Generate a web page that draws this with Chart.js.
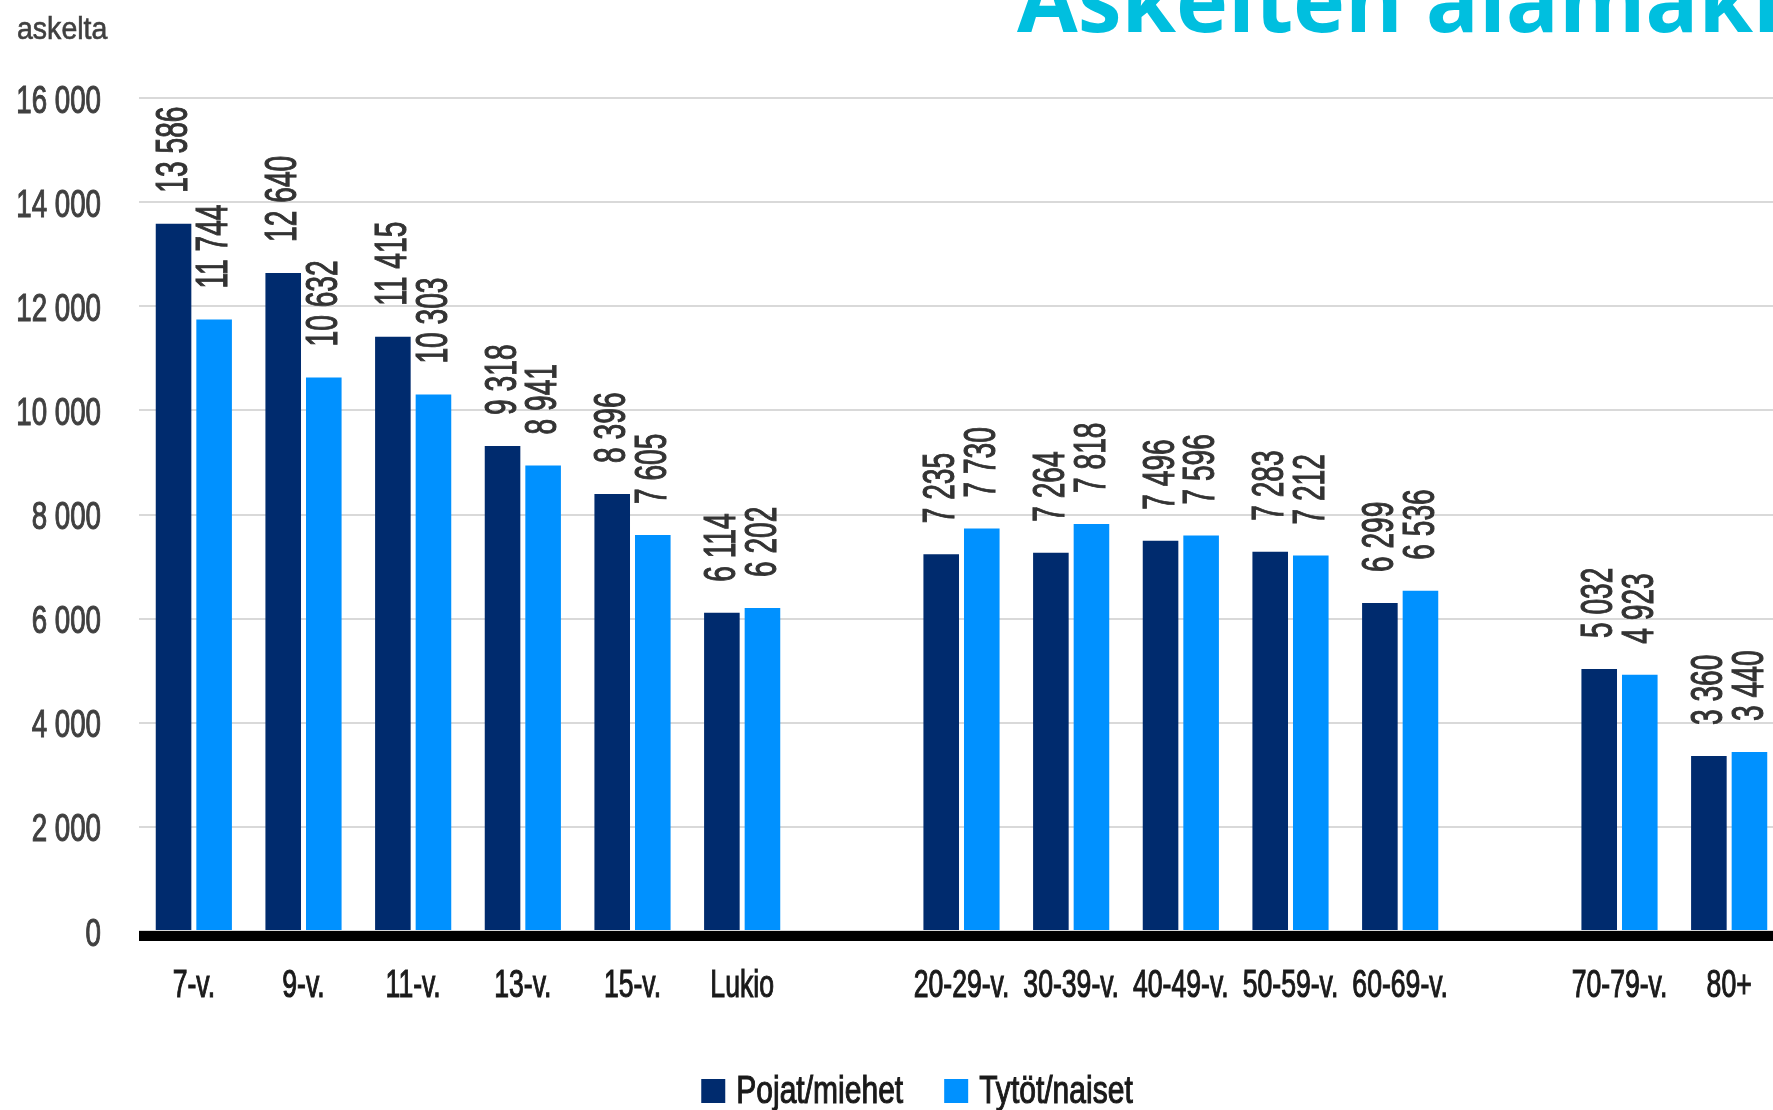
<!DOCTYPE html>
<html>
<head>
<meta charset="utf-8">
<script src="https://cdn.jsdelivr.net/npm/chart.js@4"></script>
<style>
  html, body { margin: 0; padding: 0; background: #fff; overflow: hidden; }
  #wrap { position: relative; width: 1784px; height: 1110px; }
  #title {
    position: absolute; left: 1017px; top: -46px; white-space: nowrap;
    font: 700 88px/88px "Open Sans", sans-serif; color: #00bfdf;
  }
  #unit {
    position: absolute; left: 17px; top: 13px; white-space: nowrap;
    font: 31px/31px "Liberation Sans", sans-serif; color: #404040;
    -webkit-text-stroke: 0.6px #404040;
    transform: scaleX(0.92); transform-origin: left top;
  }
</style>
</head>
<body>
<div id="wrap">
  <canvas id="stepsChart"></canvas>
  <div id="title">Askelten alamäki</div>
  <div id="unit">askelta</div>
</div>
<script>
// ── data ────────────────────────────────────────────────────────────────
const ageGroups = ['7-v.', '9-v.', '11-v.', '13-v.', '15-v.', 'Lukio', '',
  '20-29-v.', '30-39-v.', '40-49-v.', '50-59-v.', '60-69-v.', '',
  '70-79-v.', '80+'];
const boysMen = [13586, 12640, 11415, 9318, 8396, 6114, null,
  7235, 7264, 7496, 7283, 6299, null, 5032, 3360];
const girlsWomen = [11744, 10632, 10303, 8941, 7605, 6202, null,
  7730, 7818, 7596, 7212, 6536, null, 4923, 3440];
const yTicks = [0, 2000, 4000, 6000, 8000, 10000, 12000, 14000, 16000];

const FONT = "'Liberation Sans', Arial, sans-serif";

const fmt = v => String(v).replace(/\B(?=(\d{3})+(?!\d))/g, ' ');

// the reference uses a condensed face, so text is squeezed horizontally
// and given a thin stroke to get back some weight
function narrowText(ctx, text, x, y, sx, align) {
  ctx.save();
  ctx.translate(x, y);
  ctx.scale(sx, 1);
  ctx.textAlign = align;
  ctx.strokeStyle = ctx.fillStyle;
  ctx.lineWidth = 1.1;
  ctx.fillText(text, 0, 0);
  ctx.strokeText(text, 0, 0);
  ctx.restore();
}

// tick labels on both axes
const axisLabels = {
  id: 'axisLabels',
  afterDraw(chart) {
    const { ctx, chartArea, scales } = chart;
    ctx.save();
    ctx.textBaseline = 'alphabetic';

    ctx.fillStyle = '#404040';
    ctx.font = '39px ' + FONT;
    scales.y.ticks.forEach(t => {
      const y = scales.y.getPixelForValue(t.value);
      narrowText(ctx, fmt(t.value), chartArea.left - 38, y + 14.5, 0.71, 'right');
    });

    ctx.fillStyle = '#1a1a1a';
    ctx.font = '38px ' + FONT;
    chart.data.labels.forEach((lab, i) => {
      if (!lab) return;
      narrowText(ctx, lab, scales.x.getPixelForValue(i), chartArea.bottom + 66, 0.70, 'center');
    });
    ctx.restore();
  }
};

// rotated value labels above each bar
const valueLabels = {
  id: 'valueLabels',
  afterDatasetsDraw(chart) {
    const ctx = chart.ctx;
    ctx.save();
    ctx.fillStyle = '#333';
    ctx.font = '44px ' + FONT;
    ctx.textBaseline = 'middle';
    chart.data.datasets.forEach((ds, di) => {
      chart.getDatasetMeta(di).data.forEach((bar, i) => {
        const v = ds.data[i];
        if (v == null) return;
        ctx.save();
        ctx.translate(bar.x + 1, bar.y - 31);
        ctx.rotate(-Math.PI / 2);
        narrowText(ctx, fmt(v), 0, 0, 0.64, 'left');
        ctx.restore();
      });
    });
    ctx.restore();
  }
};

// thick black zero line
const zeroLine = {
  id: 'zeroLine',
  afterDatasetsDraw(chart) {
    const { ctx, chartArea, scales } = chart;
    const y0 = scales.y.getPixelForValue(0);
    ctx.save();
    ctx.fillStyle = '#000';
    ctx.fillRect(chartArea.left, y0, chartArea.right - chartArea.left, 10);
    ctx.restore();
  }
};

// legend below the plot
const bottomLegend = {
  id: 'bottomLegend',
  afterDraw(chart) {
    const ctx = chart.ctx;
    const box = 24, gapText = 11, gapItem = 41, sx = 0.77;
    ctx.save();
    ctx.font = '39px ' + FONT;
    ctx.textBaseline = 'alphabetic';
    const items = chart.data.datasets.map(ds => ({
      label: ds.label, color: ds.backgroundColor,
      w: ctx.measureText(ds.label).width * sx,
    }));
    const total = items.reduce((s, it) => s + box + gapText + it.w, 0) + gapItem * (items.length - 1);
    let x = 917 - total / 2;
    const base = 1103;
    items.forEach(it => {
      ctx.fillStyle = it.color;
      ctx.fillRect(x, base - box, box, box);
      ctx.fillStyle = '#1a1a1a';
      narrowText(ctx, it.label, x + box + gapText, base, sx, 'left');
      x += box + gapText + it.w + gapItem;
    });
    ctx.restore();
  }
};

new Chart(document.getElementById('stepsChart'), {
  type: 'bar',
  data: {
    labels: ageGroups,
    datasets: [
      { label: 'Pojat/miehet', data: boysMen, backgroundColor: '#002b6e', borderWidth: 0 },
      { label: 'Tytöt/naiset', data: girlsWomen, backgroundColor: '#0091ff', borderWidth: 0 },
    ],
  },
  options: {
    responsive: true,
    maintainAspectRatio: false,
    animation: false,
    devicePixelRatio: 1,
    categoryPercentage: 0.74,
    barPercentage: 0.877,
    layout: { padding: { top: 98, left: 0, right: 0, bottom: 0 } },
    plugins: {
      legend: { display: false },
      tooltip: { enabled: false },
    },
    scales: {
      x: {
        grid: { display: false },
        border: { display: false },
        ticks: { display: false },
        afterFit(scale) { scale.height = 179; },
      },
      y: {
        min: 0, max: 16000,
        afterBuildTicks(scale) { scale.ticks = yTicks.map(v => ({ value: v })); },
        grid: { color: '#d9d9d9', lineWidth: 2, drawTicks: false },
        border: { display: false },
        ticks: { display: false },
        afterFit(scale) { scale.width = 139; },
      },
    },
  },
  plugins: [valueLabels, zeroLine, axisLabels, bottomLegend],
});
</script>
</body>
</html>
